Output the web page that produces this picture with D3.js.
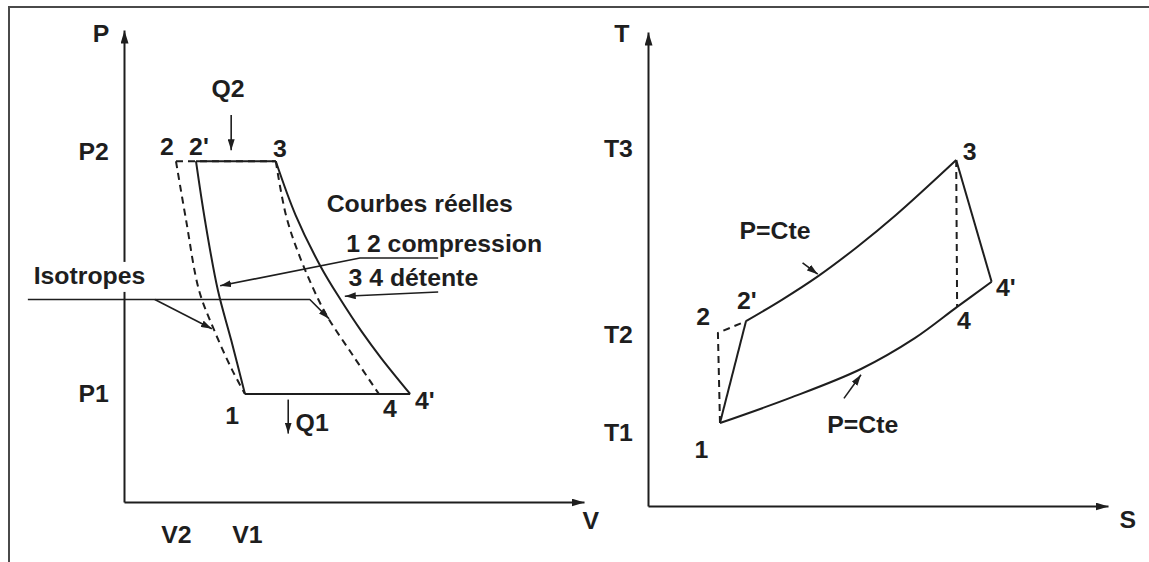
<!DOCTYPE html>
<html>
<head>
<meta charset="utf-8">
<script src="https://cdn.jsdelivr.net/npm/d3@7"></script>
<style>
  body { margin: 0; background: #fff; }
  svg { display: block; }
  text { font-family: "Liberation Sans", Arial, sans-serif; font-weight: bold; fill: #1e1e1e; }
</style>
</head>
<body>
<div id="chart"></div>
<script>
// ---------- P-V diagram (left), values in % of axis length ----------
const pvCompressionReal = [[15.65, 72.2], [17.6, 59.7], [20.4, 44.9], [23.3, 34.3], [26.3, 22.9]];
const pvCompressionIsentrope = [[11.3, 72.2], [13.5, 59.7], [16.3, 44.9], [19.6, 36.4], [23.5, 28.0], [26.3, 22.9]];
const pvExpansionReal = [[33.0, 72.2], [37.3, 60.8], [42.8, 49.8], [47.0, 43.0], [51.6, 36.2], [55.9, 30.5], [62.2, 22.9]];
const pvExpansionIsentrope = [[33.0, 72.2], [35.2, 60.8], [38.0, 52.5], [42.2, 43.0], [44.5, 38.8], [49.8, 31.0], [55.4, 22.9]];
const pvHighPressure = { p: 72.2, v2: 11.3, v2p: 15.65, v3: 33.0 };
const pvLowPressure = { p: 22.9, v1: 26.3, v4: 55.4, v4p: 62.2 };
const pvTickLabelsP = [["P2", 74.2], ["P1", 23.0]];
const pvTickLabelsV = [["V2", 11.3], ["V1", 26.7]];
const pvPointLabels = [
  ["2", 9.35, 75.2], ["2'", 16.3, 75.2], ["3", 33.9, 74.8],
  ["1", 23.5, 18.2], ["4", 57.8, 19.7], ["4'", 65.4, 21.4],
  ["Q2", 22.6, 87.5], ["Q1", 40.9, 16.7],
  ["Courbes réelles", 64.3, 63.1], ["1 2 compression", 69.6, 54.6],
  ["3 4 détente", 62.9, 47.5],
  ["P", -5.0, 99.2], ["V", 101.5, -4.0]
];
const pvHeatArrows = [[[23.3, 82.0], [23.3, 74.5]], [[35.7, 21.7], [35.7, 14.5]]];
const pvLeaders = [
  [[68.3, 51.7], [51.3, 51.7], [20.9, 45.8]],
  [[68.3, 44.5], [48.0, 43.6]],
  [[-20.9, 42.9], [40.4, 42.9], [44.6, 38.8]],
  [[6.7, 42.9], [19.1, 36.7]]
];
const pvIsotropesLabel = ["Isotropes", -7.5, 47.9];

// ---------- T-S diagram (right) ----------
const tsUpperIsobar = [[21.3, 39.0], [29.1, 43.5], [37.0, 48.5], [45.4, 54.6], [53.9, 61.4], [67.0, 73.0]];
const tsLowerIsobar = [[15.65, 17.5], [30.9, 22.8], [46.3, 28.9], [58.0, 35.4], [67.2, 42.0], [74.7, 47.3]];
const tsPoints = { p1: [15.65, 17.5], p2: [15.2, 36.5], p2p: [21.3, 39.0], p3: [67.0, 73.0], p4: [67.2, 42.0], p4p: [74.7, 47.3] };
const tsTickLabelsT = [["T3", 75.5], ["T2", 36.1], ["T1", 15.6]];
const tsPointLabels = [
  ["1", 11.6, 11.8], ["2", 12.0, 39.9], ["2'", 21.5, 43.2], ["3", 69.9, 74.7],
  ["4'", 77.8, 45.9], ["4", 68.7, 39.0],
  ["P=Cte", 27.6, 58.0], ["P=Cte", 46.7, 17.2],
  ["T", -5.7, 99.6], ["S", 104.3, -3.0]
];
const tsArrows = [[[33.6, 51.3], [36.9, 48.9]], [[42.6, 22.7], [46.3, 27.7]]];

const W = 1149, H = 562;
const INK = "#1e1e1e";
const FONT = "23px";
const STRETCH = 1.08; // the source lettering is slightly wide
const svg = d3.select("#chart").append("svg").attr("width", W).attr("height", H);

const defs = svg.append("defs");
function marker(id, len, wid) {
  defs.append("marker")
    .attr("id", id).attr("markerUnits", "userSpaceOnUse")
    .attr("viewBox", `0 0 ${len} ${wid}`)
    .attr("refX", len).attr("refY", wid / 2)
    .attr("markerWidth", len).attr("markerHeight", wid)
    .attr("orient", "auto")
    .append("path").attr("d", `M0,0L${len},${wid / 2}L0,${wid}Z`).attr("fill", INK);
}
marker("axisArrow", 13, 8);
marker("arrow", 11, 7);

// frame (left and top edges only)
svg.append("path").attr("d", `M9,${H}V7H${W}`).attr("fill", "none")
  .attr("stroke", "#4a4a4a").attr("stroke-width", 2);

const xPV = d3.scaleLinear().domain([0, 100]).range([124, 584]);
const yPV = d3.scaleLinear().domain([0, 100]).range([502, 30]);
const xTS = d3.scaleLinear().domain([0, 100]).range([648, 1108]);
const yTS = d3.scaleLinear().domain([0, 100]).range([506, 32]);

function drawAxes(g, x, y, yTicks, xTicks) {
  const ax = g.append("g").attr("transform", `translate(0,${y(0)})`)
    .call(d3.axisBottom(x).tickValues(xTicks.map(d => d[1])).tickSize(0).tickSizeOuter(0)
      .tickFormat((d, i) => xTicks[i][0]));
  const ay = g.append("g").attr("transform", `translate(${x(0)},0)`)
    .call(d3.axisLeft(y).tickValues(yTicks.map(d => d[1])).tickSize(0).tickSizeOuter(0)
      .tickFormat((d, i) => yTicks[i][0]));
  [ax, ay].forEach(a => {
    a.attr("font-size", null).attr("font-family", null);
    a.select(".domain").attr("stroke", INK).attr("stroke-width", 2).attr("marker-end", "url(#axisArrow)");
    a.selectAll("text").attr("fill", INK).style("font-size", FONT)
      .attr("transform", `scale(${STRETCH},1)`);
  });
  ax.selectAll("text").attr("y", 33).attr("dy", "0.35em");
  ay.selectAll("text").attr("x", -14).attr("dy", "0.35em");
  return { ax, ay };
}

function label(g, x, y, d) {
  g.append("text")
    .attr("transform", `translate(${x(d[1])},${y(d[2])}) scale(${STRETCH},1)`)
    .attr("text-anchor", "middle").attr("dy", "0.35em")
    .style("font-size", FONT).text(d[0]);
}

function path(g, pts, x, y, curve, dashed, arrow) {
  const line = d3.line().x(d => x(d[0])).y(d => y(d[1])).curve(curve);
  const p = g.append("path").attr("d", line(pts)).attr("fill", "none")
    .attr("stroke", INK).attr("stroke-width", 2).attr("stroke-linejoin", "round");
  if (dashed) p.attr("stroke-dasharray", "7,5");
  if (arrow) p.attr("marker-end", "url(#arrow)");
  return p;
}

// ---------- left chart ----------
const gL = svg.append("g");
drawAxes(gL, xPV, yPV, pvTickLabelsP, pvTickLabelsV);

// white patch behind "Isotropes" breaks the P axis
gL.append("rect").attr("x", xPV(0) - 4).attr("y", yPV(pvIsotropesLabel[2]) - 14)
  .attr("width", 8).attr("height", 30).attr("fill", "#fff");
label(gL, xPV, yPV, pvIsotropesLabel);

path(gL, pvCompressionIsentrope, xPV, yPV, d3.curveCatmullRom, true);
path(gL, pvExpansionIsentrope, xPV, yPV, d3.curveCatmullRom, true);
path(gL, pvCompressionReal, xPV, yPV, d3.curveCatmullRom, false);
path(gL, pvExpansionReal, xPV, yPV, d3.curveCatmullRom, false);
path(gL, [[pvHighPressure.v2p, pvHighPressure.p], [pvHighPressure.v3, pvHighPressure.p]], xPV, yPV, d3.curveLinear, false);
path(gL, [[pvHighPressure.v2, pvHighPressure.p], [pvHighPressure.v3, pvHighPressure.p]], xPV, yPV, d3.curveLinear, true);
path(gL, [[pvLowPressure.v1, pvLowPressure.p], [pvLowPressure.v4p, pvLowPressure.p]], xPV, yPV, d3.curveLinear, false);
path(gL, [[pvLowPressure.v1, pvLowPressure.p], [pvLowPressure.v4, pvLowPressure.p]], xPV, yPV, d3.curveLinear, true);

pvHeatArrows.forEach(a => path(gL, a, xPV, yPV, d3.curveLinear, false, true).attr("stroke-width", 1.6));
pvLeaders.forEach(a => path(gL, a, xPV, yPV, d3.curveLinear, false, true).attr("stroke-width", 1.6));
pvPointLabels.forEach(d => label(gL, xPV, yPV, d));

// ---------- right chart ----------
const gR = svg.append("g");
drawAxes(gR, xTS, yTS, tsTickLabelsT, []);
const t = tsPoints;
path(gR, [t.p1, t.p2, t.p2p], xTS, yTS, d3.curveLinear, true);
path(gR, [t.p3, t.p4], xTS, yTS, d3.curveLinear, true);
path(gR, tsUpperIsobar, xTS, yTS, d3.curveCatmullRom, false);
path(gR, tsLowerIsobar, xTS, yTS, d3.curveCatmullRom, false);
path(gR, [t.p2p, t.p1], xTS, yTS, d3.curveLinear, false);
path(gR, [t.p3, t.p4p], xTS, yTS, d3.curveLinear, false);
tsArrows.forEach(a => path(gR, a, xTS, yTS, d3.curveLinear, false, true).attr("stroke-width", 1.6));
tsPointLabels.forEach(d => label(gR, xTS, yTS, d));
</script>
</body>
</html>
